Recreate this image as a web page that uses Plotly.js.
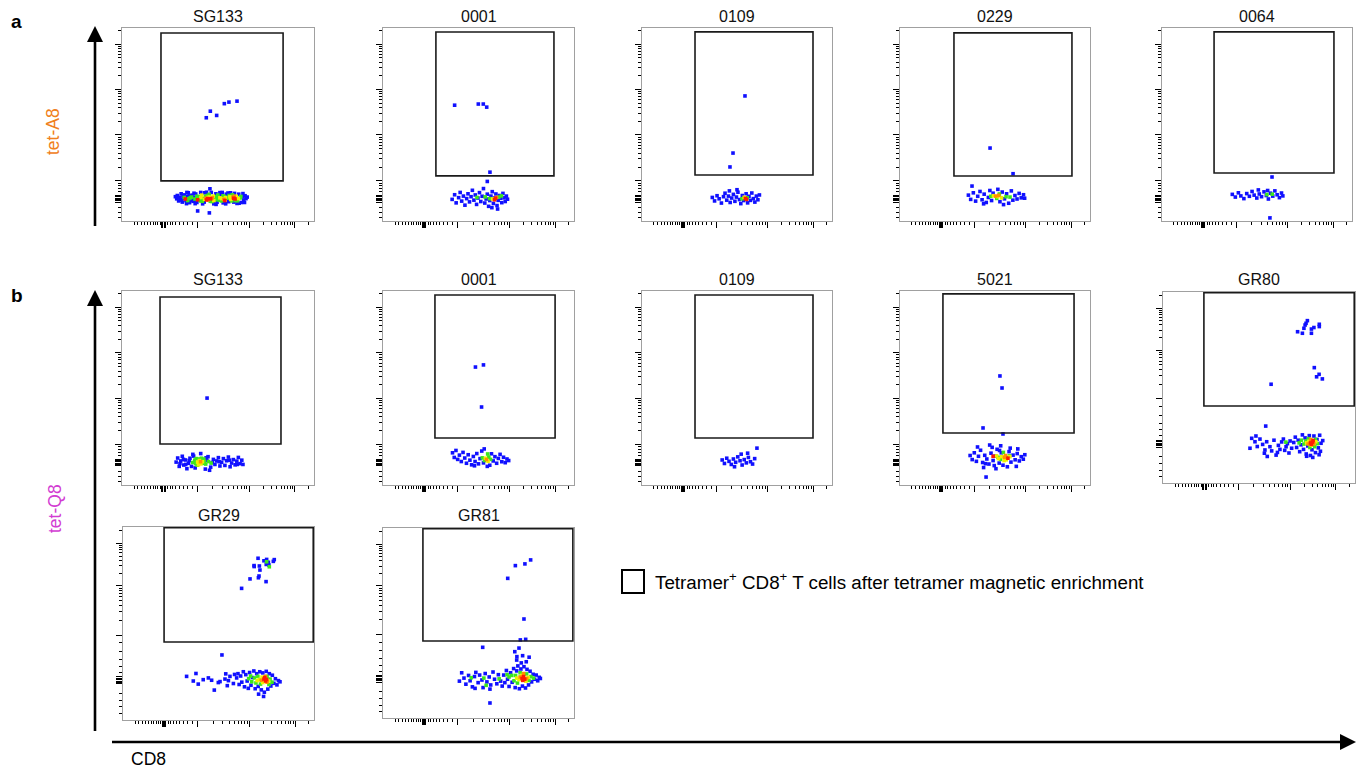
<!DOCTYPE html>
<html><head><meta charset="utf-8">
<script src="https://cdn.plot.ly/plotly-3.0.1.min.js"></script>
<style>html,body{margin:0;padding:0;background:#fff}#chart{width:1370px;height:773px}</style>
</head><body><div id="chart"></div>
<script>
// ---------------- DATA ----------------
const titles = ['SG133','0001','0109','0229','0064','SG133','0001','0109','5021','GR80','GR29','GR81'];
// gate rectangles [x0, x1, y0, y1] in plot units (0-100)
const gates = [
  [20.3,83.9,20.8,97.4],[27.7,89.5,23.4,97.9],[27.9,90.0,23.8,98.0],[28.4,90.5,23.3,97.5],[27.4,90.5,24.9,98.0],
  [19.8,82.8,21.1,96.9],[27.2,90.1,24.2,97.9],[27.9,90.0,24.2,97.9],[22.6,91.6,26.8,98.5],[21.3,99.6,40.3,99.6],
  [21.5,99.6,40.4,99.6],[20.9,99.4,40.5,99.6]
];
const yScheme = ['A','A','A','A','A','A','A','A','A','B','B','B'];
// events: [CD8, tetramer, density level 0=blue 1=green 2=yellow 3=orange 4=red]
const a1_pts = [[28.5,11.5,0],[28.8,13.2,0],[29.5,10.4,0],[30.2,12.3,0],[30.8,14.1,0],[31.4,9.8,0],[32.0,11.8,0],[32.6,13.5,0],[33.3,10.6,0],[34.0,12.6,0],[34.5,14.6,0],[35.2,9.5,0],[35.8,11.2,0],[36.5,13.4,0],[37.1,10.2,0],[37.8,12.0,0],[38.4,14.0,0],[39.0,9.6,0],[30.5,10.9,0],[33.8,14.8,0],[38.8,11.1,0],[43.0,14.6,0],[47.8,8.9,0],[51.0,14.7,0],[55.2,14.5,0],[59.9,9.1,0],[45.8,16.7,0],[39.4,5.2,0],[45.5,4.2,0],
[29.2,12.0,0],[31.0,11.0,0],[31.9,13.2,0],[33.6,9.0,0],[35.0,13.0,0],[36.8,10.6,0],[37.5,14.4,0],[38.1,9.0,0],[41.0,14.8,0],[42.0,8.9,0],[44.0,14.9,0],[46.5,14.8,0],[49.0,8.6,0],[52.2,14.8,0],[54.0,8.9,0],[56.5,14.6,0],[58.6,14.3,0],[61.0,9.2,0],[63.0,14.2,0],[63.8,9.6,0],[65.2,12.4,0],[27.8,12.6,0],
[32.4,12.2,1],[34.8,11.6,1],[36.2,12.4,1],[33.0,11.4,4],[35.6,12.0,1],[34.2,10.6,1],[38.0,11.4,1],[39.0,12.8,1],
[39.4,11.0,4],[40.2,12.6,1],[40.8,10.4,1],[41.5,13.4,2],[42.2,11.6,1],[42.8,9.8,0],[43.4,12.8,1],[44.1,10.9,4],[44.8,12.2,2],[45.4,13.8,1],[46.2,11.5,4],[46.9,10.1,1],[47.5,12.9,2],[48.2,11.2,1],[48.9,14.1,0],[49.5,9.7,0],[50.1,12.4,1],[50.8,10.8,1],[51.4,13.2,0],[52.0,11.6,2],[52.7,9.4,0],[53.3,12.7,1],[53.6,10.6,4],[54.3,13.9,0],[54.9,11.8,1],[55.6,10.0,0],[56.2,12.5,2],[56.9,11.0,1],[57.5,13.6,1],[58.2,9.8,0],[58.9,11.4,4],[59.5,12.8,2],[60.2,10.5,1],[60.8,13.9,0],[61.5,11.9,1],[62.1,9.6,0],[62.8,12.6,0],[63.4,10.9,0],[64.1,13.1,0],[64.6,11.6,0],
[39.9,11.8,1],[41.1,12.2,2],[41.8,10.2,1],[43.0,11.2,2],[44.4,13.2,1],[45.6,12.4,2],[46.0,10.2,1],[47.0,12.0,3],[48.6,12.6,1],[49.2,11.0,1],[49.9,13.4,1],[51.0,12.0,2],[51.8,10.4,1],[52.6,13.0,1],[53.9,12.1,2],[55.2,12.2,1],[55.8,13.2,1],[56.6,11.2,2],[57.2,10.4,1],[58.4,12.8,3],[59.2,10.6,1],[60.6,11.6,2],[61.9,12.7,1],[47.8,10.6,2],[53.0,11.2,3],[44.6,11.6,4],[58.2,11.8,4],
[43.6,11.8,3],[45.0,11.0,3],[57.8,12.2,3],
[43.9,53.5,0],[46.0,56.9,0],[49.3,54.7,0],[53.3,60.8,0],[55.7,61.6,0],[59.9,62.1,0]];
const a2_pts = [[36.2,11.2,0],[37.5,13.6,0],[38.3,9.4,0],[39.6,12.1,0],[40.4,14.8,0],[41.2,10.3,0],[42.1,12.9,0],[42.9,8.2,0],[43.8,11.6,0],[44.5,14.1,0],[45.3,9.9,0],[46.1,12.6,0],[46.8,15.9,0],[47.6,10.8,0],[48.3,13.5,0],[49.0,8.6,0],[49.7,11.9,0],[50.5,14.7,0],[51.2,10.1,0],[51.9,12.8,0],[52.6,16.8,0],[53.3,9.3,0],[54.0,11.4,0],[54.6,13.9,0],[55.3,7.6,0],[55.9,10.6,0],[56.5,12.9,0],[57.2,15.2,0],[57.8,9.1,0],[58.4,11.9,0],[59.1,14.0,0],[59.7,8.0,0],[60.3,10.7,0],[60.9,13.2,0],[61.6,11.8,0],[62.2,9.5,0],[62.8,14.3,0],[63.4,12.0,0],[64.0,10.1,0],[64.6,12.9,0],[65.2,11.3,0],[60.0,6.2,0],[57.0,6.9,0],
[49.2,12.2,1],[55.8,11.6,1],[60.6,12.4,1],[62.0,13.0,1],[53.5,12.5,1],[57.4,11.4,2],[59.4,12.2,3],[58.4,11.0,4],[58.9,11.8,4],
[56.0,25.3,0],[54.6,20.5,0],[37.5,60.0,0],[49.9,60.6,0],[52.5,60.6,0],[54.3,59.0,0]];
const a3_pts = [[37.0,12.2,0],[38.2,10.4,0],[39.5,13.1,0],[40.6,11.5,0],[41.8,9.3,0],[42.9,12.6,0],[43.7,14.4,0],[44.6,10.8,0],[45.5,12.9,0],[46.4,9.6,0],[47.2,11.9,0],[48.1,13.8,0],[48.9,10.2,0],[49.7,12.4,0],[50.5,14.9,0],[51.3,11.1,0],[52.0,9.0,0],[52.8,13.2,0],[53.5,10.6,0],[54.8,14.1,0],[55.6,9.4,0],[56.3,12.8,0],[57.1,10.7,0],[57.8,14.5,0],[58.6,11.6,0],[59.4,9.8,0],[60.2,12.9,0],[61.0,11.0,0],[61.8,13.5,0],[50.0,16.2,0],[46.0,15.6,0],
[52.6,11.5,1],[55.4,12.0,1],[53.8,12.3,2],[54.4,11.7,4],[55.0,11.2,4],
[54.2,64.8,0],[47.9,35.2,0],[46.3,28.0,0]];
const a4_pts = [[36.0,13.4,0],[37.2,11.2,0],[37.9,18.1,0],[38.6,14.6,0],[39.8,10.3,0],[40.9,12.8,0],[42.1,15.3,0],[43.2,11.0,0],[44.3,13.9,0],[45.4,9.6,0],[46.5,12.2,0],[47.3,15.8,0],[48.2,10.6,0],[49.0,14.4,0],[51.5,16.4,0],[52.6,10.0,0],[53.8,15.0,0],[55.0,11.5,0],[56.1,14.1,0],[57.2,9.2,0],[58.6,15.6,0],[59.4,10.8,0],[60.5,13.2,0],[61.6,11.4,0],[62.7,14.3,0],[63.8,12.0,0],[65.0,13.6,0],[65.6,11.8,0],[44.0,8.9,0],[54.5,8.5,0],
[47.8,12.8,1],[50.9,11.7,1],[52.3,14.0,1],[55.8,12.6,1],[57.9,12.4,1],[49.2,13.1,2],[51.4,12.6,2],[53.5,12.0,2],[50.3,12.9,3],[52.0,13.3,3],
[47.4,37.8,0],[59.5,24.5,0]];
const a5_pts = [[37.0,13.8,0],[38.6,12.4,0],[40.2,14.6,0],[41.5,13.0,0],[43.1,11.6,0],[44.6,14.2,0],[46.0,12.8,0],[47.4,15.3,0],[48.5,13.4,0],[49.9,11.9,0],[51.2,14.0,0],[52.4,12.6,0],[53.7,15.1,0],[54.9,13.2,0],[56.0,11.4,0],[57.1,14.4,0],[58.3,12.9,0],[59.4,15.6,0],[60.6,13.6,0],[61.8,12.1,0],[62.9,14.5,0],[63.6,13.0,0],[55.6,15.8,0],[50.7,16.1,0],
[55.2,13.7,1],[58.0,13.9,1],[57.9,22.8,0],[56.8,1.6,0]];
const b1_pts = [[28.2,11.8,0],[29.0,13.9,0],[29.8,9.6,0],[30.6,12.4,0],[31.4,14.8,0],[32.2,10.3,0],[33.0,12.9,0],[33.8,8.4,0],[34.6,11.2,0],[35.4,13.8,0],[36.2,9.6,0],[37.3,14.9,0],[38.1,8.8,0],[43.4,8.2,0],[44.8,14.6,0],[46.2,9.2,0],[47.6,13.2,0],[48.4,10.6,0],[49.3,12.4,0],[50.2,14.1,0],[51.0,9.8,0],[51.9,11.7,0],[52.8,13.6,0],[53.6,10.1,0],[54.5,12.5,0],[55.4,14.4,0],[56.3,9.4,0],[57.1,11.3,0],[58.0,13.1,0],[58.9,10.4,0],[59.8,12.3,0],[60.6,14.2,0],[61.5,11.0,0],[62.4,12.8,0],[63.0,10.6,0],[41.0,16.2,0],[36.9,15.8,0],[45.6,7.6,0],
[35.0,12.6,0],[33.2,10.6,0],[44.2,12.8,0],[47.0,11.6,0],[50.6,12.0,0],[56.0,12.8,0],[60.0,10.6,0],[32.0,13.2,0],[30.2,11.0,0],[43.8,14.0,0],
[36.8,11.6,1],[37.9,12.8,1],[39.1,10.2,1],[42.6,13.4,1],[43.6,10.8,1],[45.0,12.1,1],[46.4,11.3,1],[38.6,13.6,1],[38.4,11.0,1],[40.0,13.4,1],[42.2,11.2,1],[42.8,12.2,1],[41.4,13.8,1],
[39.4,11.8,2],[40.3,12.6,2],[41.1,10.9,2],[41.9,12.0,2],[40.6,11.3,2],[39.8,10.4,2],[40.9,12.0,3],
[44.3,44.8,0]];
const b2_pts = [[36.4,16.6,0],[37.3,14.2,0],[38.2,17.8,0],[39.1,13.2,0],[40.0,15.4,0],[41.0,12.1,0],[41.9,16.8,0],[42.8,13.9,0],[43.7,11.2,0],[44.6,15.6,0],[45.5,12.8,0],[46.4,10.4,0],[47.3,14.7,0],[48.2,12.1,0],[49.1,16.2,0],[50.0,10.9,0],[50.8,13.6,0],[51.7,17.5,0],[52.6,11.4,0],[55.9,10.2,0],[56.8,16.1,0],[57.7,12.4,0],[58.6,14.6,0],[59.5,11.2,0],[60.4,13.7,0],[61.3,15.8,0],[62.2,12.0,0],[63.1,14.3,0],[64.0,11.5,0],[64.9,13.4,0],[65.8,12.6,0],[53.0,18.6,0],[54.6,9.6,0],[47.9,9.9,0],
[52.0,14.0,1],[53.1,12.6,1],[55.4,14.4,1],[56.3,13.2,1],[54.8,16.0,1],[53.6,13.8,2],[55.0,12.2,2],[54.2,13.1,3],
[48.4,60.8,0],[52.6,61.9,0],[51.6,40.2,0]];
const b3_pts = [[42.2,12.9,0],[43.4,11.1,0],[44.6,13.8,0],[45.8,12.2,0],[47.0,10.6,0],[48.1,13.4,0],[49.3,11.7,0],[50.4,14.5,0],[51.6,12.5,0],[52.7,10.3,0],[53.8,13.1,0],[54.9,11.4,0],[56.0,14.2,0],[57.1,12.0,0],[58.2,10.8,0],[59.3,13.6,0],[60.5,19.0,0],[55.6,16.4,0],[48.7,9.4,0],[52.2,15.9,0]];
const b4_pts = [[36.9,15.2,0],[38.0,13.1,0],[39.1,16.6,0],[40.2,12.2,0],[41.3,14.8,0],[42.4,17.9,0],[43.5,11.6,0],[44.6,15.3,0],[45.7,13.4,0],[46.8,10.8,0],[47.9,16.4,0],[49.0,12.6,0],[50.0,14.9,0],[51.1,18.4,0],[52.2,11.3,0],[53.3,16.6,0],[54.2,10.2,0],[57.4,17.2,0],[58.4,11.8,0],[59.5,15.4,0],[60.6,13.0,0],[61.7,16.2,0],[62.8,12.4,0],[63.8,14.6,0],[64.9,13.3,0],[65.7,15.6,0],[48.5,19.4,0],[56.5,9.4,0],[45.3,4.1,0],
[40.8,19.6,0],[44.0,9.0,0],[47.2,20.6,0],[50.5,8.4,0],[53.0,20.2,0],[58.0,19.0,0],[61.2,9.6,0],[62.0,18.6,0],[49.6,10.0,0],[52.4,17.8,0],[45.0,11.0,0],
[51.6,14.3,1],[52.9,13.2,1],[56.4,14.0,1],[57.6,15.0,1],[54.4,16.8,1],[53.6,14.6,2],[55.9,13.0,2],[54.8,12.6,2],[50.8,15.0,2],[57.8,14.6,2],[51.8,13.6,2],[55.0,14.3,3],[55.6,15.2,3],[49.0,14.8,4],[56.8,13.8,4],
[52.6,56.2,0],[53.7,50.0,0],[43.7,29.4,0],[54.2,26.3,0]];
const b5_pts = [[45.3,18.2,0],[46.2,23.4,0],[47.9,21.6,0],[49.1,19.1,0],[50.5,23.0,0],[51.9,20.2,0],[53.1,17.3,0],[54.0,21.6,0],[54.3,13.9,0],[55.7,19.0,0],[56.6,16.8,0],[57.8,22.4,0],[58.9,14.6,0],[60.1,19.7,0],[60.9,17.6,0],[61.8,21.5,0],[62.7,23.0,0],[64.1,19.0,0],[64.8,20.6,0],[66.2,22.0,0],[67.0,18.2,0],[52.8,15.6,0],[59.6,16.0,0],[63.4,17.1,0],[48.4,24.6,0],[65.6,15.7,0],
[68.1,21.2,0],[68.9,24.0,0],[69.6,18.6,0],[70.4,22.4,0],[71.2,16.4,0],[71.9,20.0,0],[72.6,25.2,0],[73.2,17.6,0],[74.0,23.6,0],[74.6,15.2,0],[75.4,19.4,0],[76.2,24.8,0],[76.8,14.4,0],[77.6,17.4,0],[78.6,24.6,0],[79.4,15.9,0],[80.2,22.8,0],[80.9,18.4,0],[81.6,25.0,0],[82.3,20.8,0],[83.2,22.2,0],[82.0,16.6,0],[74.8,14.0,0],[78.0,13.4,0],[81.3,14.8,0],
[70.9,21.0,1],[72.1,22.4,1],[73.4,20.4,1],[74.4,22.0,1],[75.8,23.2,1],[79.4,22.8,1],[80.4,20.6,1],[76.5,18.6,1],[79.0,19.0,1],[64.0,21.4,1],
[74.8,21.0,2],[76.0,21.8,2],[79.6,21.6,2],[77.2,19.8,2],[75.6,20.4,3],[78.6,20.4,3],[77.0,22.8,3],[76.8,21.0,4],[77.8,21.4,4],[78.2,22.2,4],[77.3,20.2,4],
[70.1,79.2,0],[72.6,78.4,0],[73.4,81.0,0],[74.0,82.7,0],[74.5,83.6,0],[75.2,85.0,0],[77.3,80.6,0],[77.3,78.4,0],[78.6,81.4,0],[81.4,83.1,0],[81.4,81.9,0],
[78.8,60.4,0],[80.0,55.6,0],[81.3,56.9,0],[83.0,54.5,0],[56.3,51.7,0],[53.5,29.8,0]];
const c1_pts = [[33.3,22.6,0],[36.8,20.2,0],[38.2,24.1,0],[39.4,18.6,0],[42.0,20.9,0],[44.7,21.8,0],[46.4,20.6,0],[47.8,15.5,0],[49.9,19.4,0],[50.8,19.9,0],[53.4,21.2,0],[53.8,23.9,0],[54.6,17.8,0],[56.0,22.6,0],[57.8,18.9,0],[55.2,20.4,0],[58.4,23.6,0],[51.8,33.7,0],
[59.5,21.8,0],[60.2,24.0,0],[60.8,18.4,0],[61.6,22.8,0],[62.2,19.6,0],[63.0,25.0,0],[63.6,17.2,0],[64.3,23.5,0],[65.0,20.2,0],[65.6,16.4,0],[66.3,24.6,0],[67.0,18.0,0],[67.8,22.0,0],[68.5,25.4,0],[69.2,16.2,0],[70.0,24.0,0],[70.8,17.4,0],[71.6,25.0,0],[72.4,15.6,0],[73.2,24.4,0],[74.0,14.4,0],[75.0,25.2,0],[75.8,16.0,0],[76.6,24.0,0],[77.4,17.6,0],[78.2,23.2,0],[79.0,19.0,0],[79.8,21.4,0],[80.6,18.2,0],[81.4,20.4,0],[82.2,19.8,0],[71.0,13.4,0],[73.6,12.2,0],
[65.8,21.4,1],[67.4,19.8,1],[68.8,21.8,1],[69.6,19.2,1],[70.6,22.6,1],[72.0,18.6,1],[75.4,22.6,1],[77.0,21.2,1],[78.0,19.6,1],[66.8,22.8,1],[76.4,18.4,1],
[71.4,21.0,2],[72.8,22.2,2],[73.2,19.4,2],[76.2,20.2,2],[70.2,20.4,2],[72.4,20.6,3],[74.6,22.6,3],[75.4,19.6,3],[73.8,21.2,4],[74.6,20.2,4],[74.2,22.0,4],[75.2,21.0,4],
[62.1,68.2,0],[66.5,73.1,0],[70.9,73.7,0],[71.2,74.6,0],[74.9,71.7,0],[68.6,80.0,0],[68.7,79.5,0],[70.7,83.8,0],[71.4,79.8,0],[71.7,77.7,0],[73.8,82.5,0],[75.2,83.2,0],[75.0,80.6,0],[76.1,81.7,0],[76.4,80.3,0],[78.7,82.2,0],[79.2,83.1,0],[75.2,82.0,1],[76.6,79.4,1]];
const c2_pts = [[40.0,19.4,0],[41.2,23.8,0],[42.4,21.0,0],[43.4,17.8,0],[44.8,22.4,0],[45.6,19.6,0],[46.8,16.4,0],[47.9,21.8,0],[48.6,24.0,0],[49.8,18.6,0],[50.6,22.6,0],[51.8,20.0,0],[52.4,16.0,0],[53.5,23.4,0],[54.4,19.0,0],[55.6,21.6,0],[56.4,17.4,0],[57.6,24.2,0],[58.4,20.4,0],[59.6,18.0,0],[60.4,22.8,0],[61.6,19.4,0],[62.4,16.8,0],[48.2,15.6,0],[56.0,15.2,0],
[46.2,21.2,1],[52.8,21.0,1],[60.8,20.6,1],[54.0,17.2,1],
[63.2,22.6,0],[63.8,18.6,0],[64.6,25.0,0],[65.2,20.4,0],[66.0,16.6,0],[66.8,23.8,0],[67.6,18.8,0],[68.4,26.0,0],[69.2,16.0,0],[70.0,24.8,0],[70.6,27.4,0],[71.4,15.4,0],[72.2,25.8,0],[73.0,16.8,0],[73.8,27.0,0],[74.6,15.8,0],[75.4,25.6,0],[76.2,17.4,0],[77.0,24.6,0],[77.8,19.0,0],[78.6,23.0,0],[79.4,20.4,0],[80.2,22.6,0],[81.0,19.6,0],[81.8,21.4,0],[82.4,20.8,0],[70.0,30.5,0],[73.1,32.8,0],[76.5,32.0,0],[70.1,32.3,0],[72.4,29.0,0],[75.0,29.6,0],[69.0,34.9,0],[71.2,36.8,0],[52.2,37.2,0],[56.0,7.9,0],
[66.0,21.6,1],[67.4,22.4,1],[68.6,19.6,1],[69.4,22.4,1],[70.4,18.4,1],[71.8,23.8,1],[75.2,23.2,1],[76.4,19.8,1],[77.4,21.8,1],[78.8,21.0,1],[65.0,22.8,1],
[70.0,21.0,2],[71.2,20.2,2],[72.6,22.4,2],[74.8,19.4,2],[76.0,21.4,2],[71.8,21.6,3],[73.6,23.4,3],[75.2,20.8,3],[72.8,20.8,4],[73.6,21.8,4],[74.2,20.4,4],[73.2,19.8,4],
[77.3,83.2,0],[74.3,81.1,0],[69.3,80.2,0],[65.3,73.5,0],[73.8,52.1,0],[71.9,41.1,0],[74.7,41.4,0]];
const panels = [a1_pts,a2_pts,a3_pts,a4_pts,a5_pts,b1_pts,b2_pts,b3_pts,b4_pts,b5_pts,c1_pts,c2_pts];

// ---------------- LAYOUT / STYLE ----------------
const W = 1370, H = 773;
const frames = [[122,314,28,221],[383,574,28,221],[642,832,28,221],[900,1090,28,221],[1162,1352,28,221],
  [122,314,291,485],[383,574,291,485],[642,832,291,485],[900,1090,291,485],[1163,1355,292,483],
  [123,314,527,720],[383,574,528,718]];
const titleY = [16,16,16,16,16,280,280,280,280,280,515,515];
const levelColors = ['#1010ff','#3ce61e','#f2f000','#ff9000','#ff1a00'];
const FONT = '"Liberation Sans", Arial, Helvetica, sans-serif';
const px = v => v / W, py = v => 1 - v / H;

function logMinors(start, decade, maxv){
  const out=[]; for(let k=2;k<=9;k++){const v=start+decade*Math.log10(k); if(v<maxv) out.push(v);} return out;
}
const xMajor = [20.7,21.3,21.9,22.5,39.2,66.3,90.1];
const xMinor = [6.3,8.2,10.0,11.7,13.3,14.8,16.2,17.5,18.7,19.8,23.8,25.0,26.4,28.0,29.8,31.8,34.0,36.5]
  .concat(logMinors(39.2,27.1,66),logMinors(66.3,23.8,90),[97.3]);
const yAMajor = [9.8,10.5,11.2,11.9,12.6,13.3,20.8,44.6,68.1,91.7];
const yAMinor = [2.0,4.6,7.0,15.2,16.8,18.3,19.6].concat(logMinors(20.8,23.8,44.5),logMinors(44.6,23.5,68),logMinors(68.1,23.6,91.6),[98.8]);
const yBMajor = [18.8,19.5,20.2,20.9,21.6,22.3,44.0,69.5,91.5];
const yBMinor = [3.3,6.8,10.3,13.8,24.7,27.8,31.3,35.6,40.0].concat(logMinors(44.0,25.5,69.4),logMinors(69.5,22,91.4),[98.1]);

const data = [];
const layout = {width:W,height:H,margin:{l:0,r:0,t:0,b:0},paper_bgcolor:'#fff',plot_bgcolor:'#fff',
  showlegend:false,shapes:[],annotations:[],font:{family:FONT,color:'#111'}};

panels.forEach((pts,i)=>{
  const k = i===0 ? '' : String(i+1);
  const f = frames[i];
  const sorted = pts.slice().sort((a,b)=>a[2]-b[2]);
  data.push({type:'scatter',mode:'markers',xaxis:'x'+k,yaxis:'y'+k,
    x:sorted.map(p=>p[0]),y:sorted.map(p=>p[1]),
    marker:{symbol:'square',size:3.6,color:sorted.map(p=>levelColors[p[2]]),line:{width:0}},
    hoverinfo:'skip',cliponaxis:true});
  const common = {range:[0,100],showgrid:false,zeroline:false,showticklabels:false,showline:true,mirror:true,
    linecolor:'#a0a0a0',linewidth:1,ticks:'outside',tickcolor:'#000',tickwidth:1,ticklen:6,fixedrange:true,tickmode:'array'};
  const ys = yScheme[i]==='A';
  layout['xaxis'+k] = Object.assign({},common,{domain:[px(f[0]),px(f[1])],anchor:'y'+k,tickvals:xMajor,
    minor:{tickmode:'array',tickvals:xMinor,ticks:'outside',ticklen:3,tickcolor:'#000',tickwidth:1,showgrid:false}});
  layout['yaxis'+k] = Object.assign({},common,{domain:[py(f[3]),py(f[2])],anchor:'x'+k,tickvals:ys?yAMajor:yBMajor,
    minor:{tickmode:'array',tickvals:ys?yAMinor:yBMinor,ticks:'outside',ticklen:3,tickcolor:'#000',tickwidth:1,showgrid:false}});
  const g = gates[i];
  layout.shapes.push({type:'rect',xref:'x'+k,yref:'y'+k,x0:g[0],x1:g[1],y0:g[2],y1:g[3],line:{color:'#1a1a1a',width:1.6},fillcolor:'rgba(0,0,0,0)'});
  layout.annotations.push({xref:'paper',yref:'paper',x:px((f[0]+f[1])/2),y:py(titleY[i]),text:titles[i],showarrow:false,
    xanchor:'center',yanchor:'middle',font:{size:16,color:'#111',family:FONT}});
});

// panel letters & axis labels
layout.annotations.push(
  {xref:'paper',yref:'paper',x:px(9),y:py(21),text:'<b>a</b>',showarrow:false,xanchor:'left',yanchor:'middle',font:{size:19,color:'#000',family:FONT}},
  {xref:'paper',yref:'paper',x:px(9),y:py(295),text:'<b>b</b>',showarrow:false,xanchor:'left',yanchor:'middle',font:{size:19,color:'#000',family:FONT}},
  {xref:'paper',yref:'paper',x:px(53),y:py(132),text:'tet-A8',textangle:-90,showarrow:false,xanchor:'center',yanchor:'middle',font:{size:17.5,color:'#f08020',family:FONT}},
  {xref:'paper',yref:'paper',x:px(55),y:py(509),text:'tet-Q8',textangle:-90,showarrow:false,xanchor:'center',yanchor:'middle',font:{size:17.5,color:'#d23cd2',family:FONT}},
  {xref:'paper',yref:'paper',x:px(148),y:py(759),text:'CD8',showarrow:false,xanchor:'center',yanchor:'middle',font:{size:17.5,color:'#000',family:FONT}},
  {xref:'paper',yref:'paper',x:px(653),y:py(581),text:'Tetramer<sup>+</sup> CD8<sup>+</sup> T cells after tetramer magnetic enrichment',showarrow:false,xanchor:'left',yanchor:'middle',font:{size:18.8,color:'#000',family:FONT}}
);
// arrows (lines + filled heads) and legend box
const arrowLine = {color:'#000',width:2.6};
layout.shapes.push(
  {type:'line',xref:'paper',yref:'paper',x0:px(95),x1:px(95),y0:py(226),y1:py(38),line:arrowLine},
  {type:'path',xref:'paper',yref:'paper',path:`M ${px(95)},${py(26)} L ${px(87)},${py(42)} L ${px(103)},${py(42)} Z`,fillcolor:'#000',line:{width:0}},
  {type:'line',xref:'paper',yref:'paper',x0:px(95),x1:px(95),y0:py(731),y1:py(303),line:arrowLine},
  {type:'path',xref:'paper',yref:'paper',path:`M ${px(95)},${py(290)} L ${px(87)},${py(306)} L ${px(103)},${py(306)} Z`,fillcolor:'#000',line:{width:0}},
  {type:'line',xref:'paper',yref:'paper',x0:px(112),x1:px(1344),y0:py(742),y1:py(742),line:arrowLine},
  {type:'path',xref:'paper',yref:'paper',path:`M ${px(1356)},${py(742)} L ${px(1340)},${py(734)} L ${px(1340)},${py(750)} Z`,fillcolor:'#000',line:{width:0}},
  {type:'rect',xref:'paper',yref:'paper',x0:px(622),x1:px(644),y0:py(593),y1:py(570),line:{color:'#000',width:2},fillcolor:'rgba(0,0,0,0)'}
);

Plotly.newPlot('chart',data,layout,{displayModeBar:false,staticPlot:true});
</script></body></html>
